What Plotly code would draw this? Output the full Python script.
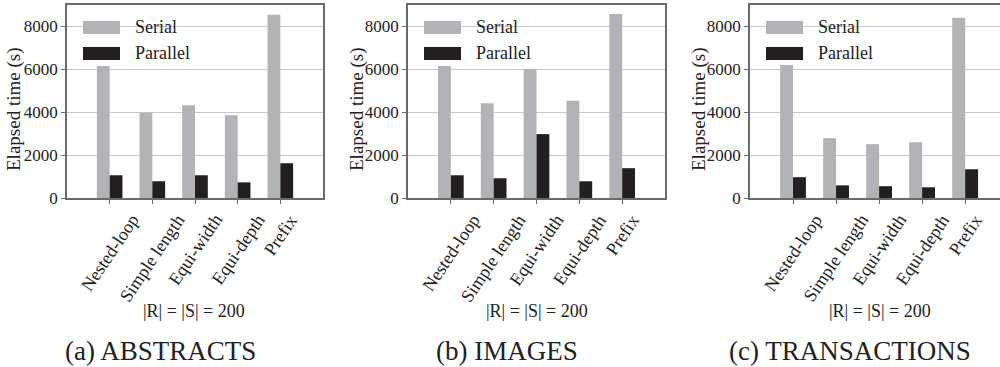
import plotly.graph_objects as go

W, H = 1000, 367

categories = ["Nested-loop", "Simple length", "Equi-width", "Equi-depth", "Prefix"]
series_names = ["Serial", "Parallel"]

abstracts_serial = [6150, 3970, 4330, 3860, 8540]
abstracts_parallel = [1060, 780, 1060, 730, 1620]

images_serial = [6150, 4420, 6000, 4530, 8580]
images_parallel = [1060, 920, 2980, 780, 1390]

transactions_serial = [6200, 2790, 2510, 2600, 8400]
transactions_parallel = [970, 590, 550, 500, 1340]

y_ticks = [0, 2000, 4000, 6000, 8000]
subtitle = "|R| = |S| = 200"
captions = ["(a) ABSTRACTS", "(b) IMAGES", "(c) TRANSACTIONS"]

panels = [
    (abstracts_serial, abstracts_parallel),
    (images_serial, images_parallel),
    (transactions_serial, transactions_parallel),
]

SERIAL_COLOR = "#b2b3b7"
PARALLEL_COLOR = "#231f20"
FRAME = "#6a6a6a"
GRID = "#c8c8c8"
FONT = "Liberation Serif, Times New Roman, Times, DejaVu Serif, serif"
TXT = "#222222"

# plot-area pixel geometry (left, right) for each panel
px_left = [67, 408, 750]
px_right = [323, 665, 1000]
x_ranges = [[-1, 5], [-1, 5], [-1, 4.81]]
px_top, px_bottom = 5, 198
ytitle_x = [14, 357, 699]
caption_x = [160, 507, 850]
subtitle_x = [194, 537, 880]


def fx(px):
    return px / W


def fy(py):
    return 1 - py / H


fig = go.Figure()
shapes = []
annotations = []

for i, (ser, par) in enumerate(panels):
    n = "" if i == 0 else str(i + 1)
    xa, ya = "x" + n, "y" + n
    fig.add_trace(go.Bar(x=categories, y=ser, name=series_names[0], marker_color=SERIAL_COLOR,
                         marker_line_width=0, xaxis=xa, yaxis=ya, showlegend=False))
    fig.add_trace(go.Bar(x=categories, y=par, name=series_names[1], marker_color=PARALLEL_COLOR,
                         marker_line_width=0, xaxis=xa, yaxis=ya, showlegend=False))

    fig.update_layout(**{
        "xaxis" + n: dict(domain=[fx(px_left[i]), fx(px_right[i])], anchor=ya,
                          type="category", range=x_ranges[i], showticklabels=False,
                          ticks="outside", ticklen=4, tickcolor=FRAME,
                          showline=True, linecolor=FRAME, linewidth=1.5, mirror=True,
                          showgrid=False, zeroline=False, automargin=False),
        "yaxis" + n: dict(domain=[fy(px_bottom), fy(px_top)], anchor=xa,
                          range=[0, 9000], tickvals=y_ticks,
                          ticks="outside", ticklen=4, tickcolor=FRAME,
                          tickfont=dict(family=FONT, size=17, color=TXT),
                          showline=True, linecolor=FRAME, linewidth=1.5,
                          mirror=(i < 2), showgrid=True, gridcolor=GRID, gridwidth=1.2,
                          zeroline=False, automargin=False),
    })

    # category labels (rotated, centered under ticks)
    for c in categories:
        annotations.append(dict(x=c, y=0, xref=xa, yref=ya + " domain", text=c,
                                showarrow=False, textangle=-56, xanchor="center",
                                yanchor="top", yshift=-10,
                                font=dict(family=FONT, size=18, color=TXT)))
    # y-axis title
    annotations.append(dict(x=fx(ytitle_x[i]), y=fy(110), xref="paper", yref="paper",
                            text="Elapsed time (s)", textangle=-90, showarrow=False,
                            xanchor="center", yanchor="middle",
                            font=dict(family=FONT, size=19, color=TXT)))
    # subtitle and caption
    annotations.append(dict(x=fx(subtitle_x[i]), y=fy(311), xref="paper", yref="paper",
                            text=subtitle, showarrow=False, xanchor="center", yanchor="middle",
                            font=dict(family=FONT, size=18, color=TXT)))
    annotations.append(dict(x=fx(caption_x[i]), y=fy(351), xref="paper", yref="paper",
                            text=captions[i], showarrow=False, xanchor="center", yanchor="middle",
                            font=dict(family=FONT, size=27, color=TXT)))

    # custom legend
    L = px_left[i]
    for k, (name, col) in enumerate(zip(series_names, [SERIAL_COLOR, PARALLEL_COLOR])):
        y0, y1 = 21 + 26 * k, 34 + 26 * k
        shapes.append(dict(type="rect", xref="paper", yref="paper",
                           x0=fx(L + 16), x1=fx(L + 53), y0=fy(y1), y1=fy(y0),
                           fillcolor=col, line_width=0))
        annotations.append(dict(x=fx(L + 66), y=fy((y0 + y1) / 2), xref="paper", yref="paper",
                                text=name, showarrow=False, xanchor="left", yanchor="middle",
                                font=dict(family=FONT, size=18, color=TXT)))

fig.update_layout(width=W, height=H,
                  margin=dict(l=0, r=0, t=0, b=0, pad=0, autoexpand=False),
                  paper_bgcolor="white", plot_bgcolor="white",
                  barmode="group", bargap=0.4, bargroupgap=0,
                  shapes=shapes, annotations=annotations,
                  font=dict(family=FONT))

fig.write_html("out.html", config={"displayModeBar": False},
               post_script="document.body.style.margin='0';document.body.style.overflow='hidden';")
